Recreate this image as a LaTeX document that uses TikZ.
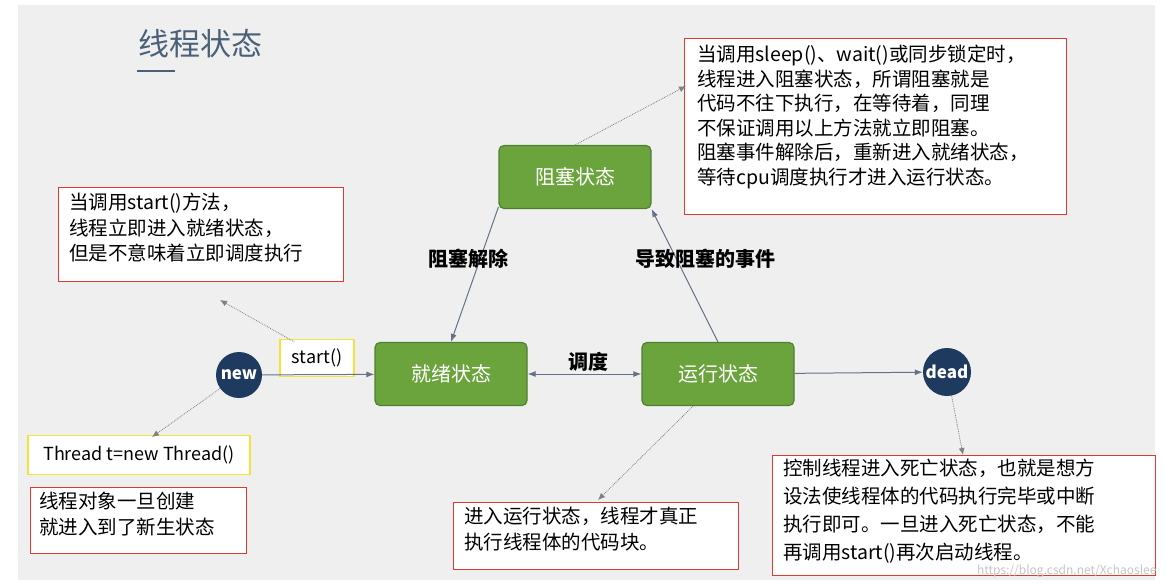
\documentclass[tikz,border=0pt]{standalone}
\usepackage{fontspec}
\setmainfont{Noto Sans CJK SC}
\usetikzlibrary{arrows.meta}
\definecolor{gfill}{HTML}{6BA43D}
\definecolor{gdraw}{HTML}{4F8030}
\definecolor{navy}{HTML}{1F3A5F}
\definecolor{redb}{HTML}{E03A30}
\definecolor{yel}{HTML}{F2E33A}
\definecolor{bg}{HTML}{EFEFF0}
\definecolor{ttl}{HTML}{4A6178}
\begin{document}
\begin{tikzpicture}[x=1pt,y=-1pt,
  state/.style={draw=gdraw,line width=1.2pt,fill=gfill,rounded corners=5pt,minimum width=152pt,minimum height=63pt,text=white,font=\fontsize{20}{22}\selectfont},
  endpt/.style={circle,fill=navy,text=white,minimum size=46pt,inner sep=0pt,font=\bfseries\fontsize{17}{20}\selectfont},
  note/.style={draw=redb,line width=1pt,fill=white,align=left,anchor=north west,inner sep=0pt},
  ntext/.style={anchor=north west,align=left,inner sep=0pt},
  ybox/.style={draw=yel,line width=1.2pt,fill=white,font=\fontsize{18}{20}\selectfont},
  arr/.style={-{Latex[length=8pt,width=6pt]},line width=1pt,draw=gray!30!navy!80},
  dot/.style={-{Latex[length=7pt,width=6pt]},densely dotted,line width=0.8pt,draw=gray},
  lbl/.style={font=\bfseries\fontsize{20}{22}\selectfont}]
\useasboundingbox (0,0) rectangle (1166,584);
\fill[white] (0,0) rectangle (1166,584);
\fill[bg] (18,5) rectangle (1155,580);
\node[text=ttl,font=\fontsize{31}{34}\selectfont] (title) at (200,44) {线程状态};
\draw[ttl,line width=2.5pt] (137,71) -- (175,71);

\node[state] (blk) at (575,177) {阻塞状态};
\node[state] (rdy) at (451,374) {就绪状态};
\node[state] (run) at (718,374) {运行状态};
\node[endpt] (new) at (239,375) {new};
\node[endpt,minimum size=48pt] (dead) at (947,372) {dead};
\node[ybox,minimum width=74pt,minimum height=37pt] (st) at (317,358) {start()};

\draw[arr] (new) -- (rdy);
\draw[arr,{Latex[length=8pt,width=6pt]}-{Latex[length=8pt,width=6pt]}] (rdy) -- (run);
\node[lbl] (ds) at (588,362) {调度};
\draw[arr] (run.north) -- (blk.east|-blk.south);
\node[lbl] (cause) at (705,259) {导致阻塞的事件};
\draw[arr] (blk.west|-blk.south) ++(0,-2) coordinate (bs) (bs) -- (rdy.north);
\node[lbl] (rel) at (468,259) {阻塞解除};
\draw[arr] (run) -- (dead);

\node[note,minimum width=382pt,minimum height=176pt] (n1) at (684,38) {};
\node[ntext,font=\fontsize{19.5}{24.5}\selectfont] (t1) at (697,45) {当调用sleep()、wait()或同步锁定时，\\线程进入阻塞状态，所谓阻塞就是\\代码不往下执行，在等待着，同理\\不保证调用以上方法就立即阻塞。\\阻塞事件解除后，重新进入就绪状态，\\等待cpu调度执行才进入运行状态。};
\node[note,minimum width=285pt,minimum height=94pt] (n2) at (58,187) {};
\node[ntext,font=\fontsize{19.5}{25.5}\selectfont] (t2) at (69,193) {当调用start()方法，\\线程立即进入就绪状态，\\但是不意味着立即调度执行};
\node[ybox,minimum width=222pt,minimum height=39pt] (th) at (139,455) {Thread t=new Thread()};
\node[note,minimum width=216pt,minimum height=66pt] (n3) at (30,487) {};
\node[ntext,font=\fontsize{19.5}{26}\selectfont] (t3) at (39,492) {线程对象一旦创建\\就进入到了新生状态};
\node[note,minimum width=285pt,minimum height=67pt] (n4) at (453,502) {};
\node[ntext,font=\fontsize{19.5}{26}\selectfont] (t4) at (464,507) {进入运行状态，线程才真正\\执行线程体的代码块。};
\node[note,minimum width=383pt,minimum height=120pt] (n5) at (772,455) {};
\node[ntext,font=\fontsize{19.5}{28}\selectfont] (t5) at (783,459) {控制线程进入死亡状态，也就是想方\\设法使线程体的代码执行完毕或中断\\执行即可。一旦进入死亡状态，不能\\再调用start()再次启动线程。};
\node[text=gray!45,font=\fontsize{12}{14}\selectfont,anchor=east] (wm) at (1160,571) {https://blog.csdn.net/Xchaoslee};

\coordinate (d1) at (686,86);
\draw[dot] (575,145) -- (d1);
\coordinate (d2) at (220,300);
\draw[dot] (st.north west) ++(15,3) coordinate (sa) (sa) -- (d2);
\coordinate (d3) at (152,437);
\draw[dot] (new) -- (d3);
\coordinate (d4) at (598,500);
\draw[dot] (run.south) ++(-25,0) coordinate (rb) (rb) -- (d4);
\coordinate (d5) at (963,455);
\draw[dot] (dead) -- (d5);
\end{tikzpicture}
\end{document}
